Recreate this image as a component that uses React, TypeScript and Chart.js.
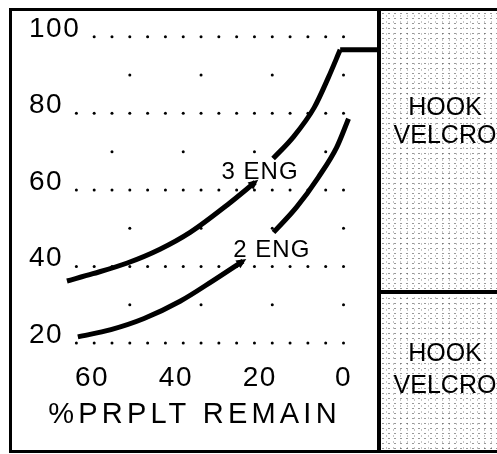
import React, { useEffect, useRef } from "react";
import { Chart, registerables } from "chart.js";

Chart.register(...registerables);

// ---- axis ticks / titles ----
const X_TICKS = [60, 40, 20, 0];
const Y_TICKS = [20, 40, 60, 80, 100];
const X_TITLE = "%PRPLT REMAIN";

// ---- curves (x = % propellant remaining, y = value) ----
const ENG3_LOW_X = [66.0, 59.8, 51.6, 43.8, 36.6, 27.6, 21.1];
const ENG3_LOW_Y = [36.2, 38.1, 40.9, 44.5, 48.9, 56.2, 62.0];
const ENG3_UP_X = [16.8, 12.0, 7.0, 3.6, 0.8];
const ENG3_UP_Y = [68.2, 73.8, 81.5, 89.4, 96.6];
const ENG3_FLAT_X = [0.8, -8.7];
const ENG3_FLAT_Y = [96.6, 96.6];
const ENG2_LOW_X = [63.4, 55.5, 47.6, 39.0, 31.1, 24.0];
const ENG2_LOW_Y = [21.6, 23.5, 26.4, 30.9, 36.3, 41.4];
const ENG2_UP_X = [16.7, 11.2, 6.0, 1.6, -1.2];
const ENG2_UP_Y = [48.9, 55.5, 63.3, 71.2, 78.6];

// ---- curve labels ----
const LABEL_TEXT = ["3 ENG", "2 ENG"];
const LABEL_X = [29.1, 26.3];
const LABEL_Y = [62.9, 42.5];

// ---- dotted grid ----
const DOT_COLS = [0, 4.25, 8.5, 12.75, 17, 21.25, 25.5, 29.75, 34, 38.25, 42.5, 46.75, 51, 55.25, 59.5, 63.75];
const DOT_COLS_TOP = [0, 4.25, 8.5, 12.75, 17, 21.25, 25.5, 29.75, 34, 38.25, 42.5, 46.75, 51, 55.25, 59.5];
const DOT_ROWS = [20, 40, 60, 80];
const DOT_ROW_TOP = 100;
const SPARSE_COLS_A = [0, 17, 34, 51];
const SPARSE_ROWS_A = [30, 50, 90];
const SPARSE_COLS_B = [4.25, 21.25, 38.25, 55.25];
const SPARSE_ROWS_B = [70];

// ---- side panel ----
const PANEL_LINES_TOP = ["HOOK", "VELCRO"];
const PANEL_LINES_BOTTOM = ["HOOK", "VELCRO"];

const FONT = "'Liberation Sans', Arial, Helvetica, sans-serif";

const zip = (xs: number[], ys: number[]) => xs.map((x, i) => ({ x, y: ys[i] }));

const dotGridPlugin = {
  id: "dotGrid",
  beforeDatasetsDraw(chart: any) {
    const { ctx, scales } = chart;
    const xs = scales.x;
    const ys = scales.y;
    const dot = (xv: number, yv: number) => {
      ctx.beginPath();
      ctx.arc(xs.getPixelForValue(xv), ys.getPixelForValue(yv), 1.5, 0, Math.PI * 2);
      ctx.fill();
    };
    ctx.save();
    ctx.fillStyle = "#000";
    DOT_ROWS.forEach((r) => DOT_COLS.forEach((c) => dot(c, r)));
    DOT_COLS_TOP.forEach((c) => dot(c, DOT_ROW_TOP));
    SPARSE_ROWS_A.forEach((r) => SPARSE_COLS_A.forEach((c) => dot(c, r)));
    SPARSE_ROWS_B.forEach((r) => SPARSE_COLS_B.forEach((c) => dot(c, r)));
    ctx.restore();
  },
};

const annotPlugin = {
  id: "annot",
  beforeDraw(chart: any) {
    chart.ctx.letterSpacing = "1.5px";
    const sx = chart.scales.x;
    if (sx && !sx.__titlePatched) {
      const orig = sx.drawTitle.bind(sx);
      sx.drawTitle = (...args: any[]) => {
        const c = sx.ctx;
        const prev = c.letterSpacing;
        c.letterSpacing = "4.2px";
        orig(...args);
        c.letterSpacing = prev;
      };
      sx.__titlePatched = true;
    }
  },
  afterDatasetsDraw(chart: any) {
    const { ctx, scales } = chart;
    ctx.save();
    ctx.fillStyle = "#000";
    chart.data.datasets.forEach((ds: any, i: number) => {
      if (!ds.arrow) return;
      const pts = chart.getDatasetMeta(i).data;
      const a = pts[pts.length - 2];
      const b = pts[pts.length - 1];
      const ang = Math.atan2(b.y - a.y, b.x - a.x);
      const tipX = b.x + Math.cos(ang) * 4;
      const tipY = b.y + Math.sin(ang) * 4;
      const baseX = b.x - Math.cos(ang) * 6;
      const baseY = b.y - Math.sin(ang) * 6;
      const nx = -Math.sin(ang) * 4.5;
      const ny = Math.cos(ang) * 4.5;
      ctx.beginPath();
      ctx.moveTo(tipX, tipY);
      ctx.lineTo(baseX + nx, baseY + ny);
      ctx.lineTo(baseX - nx, baseY - ny);
      ctx.closePath();
      ctx.fill();
    });
    ctx.letterSpacing = "1px";
    ctx.font = `24px ${FONT}`;
    ctx.textAlign = "left";
    ctx.textBaseline = "alphabetic";
    LABEL_TEXT.forEach((t, i) => {
      ctx.fillText(t, scales.x.getPixelForValue(LABEL_X[i]), scales.y.getPixelForValue(LABEL_Y[i]));
    });
    ctx.restore();
  },
};

export default function App() {
  const ref = useRef<HTMLCanvasElement>(null);

  useEffect(() => {
    if (!ref.current) return;
    Chart.defaults.font.family = FONT;
    Chart.defaults.color = "#000";
    const lineStyle = {
      borderColor: "#000",
      backgroundColor: "#000",
      borderWidth: 5,
      pointRadius: 0,
      fill: false,
      clip: false as any,
    };
    const smooth = { cubicInterpolationMode: "monotone" as const };
    const chart = new Chart(ref.current, {
      type: "line",
      data: {
        datasets: [
          { ...lineStyle, ...smooth, data: zip(ENG3_LOW_X, ENG3_LOW_Y), arrow: true } as any,
          { ...lineStyle, ...smooth, data: zip(ENG3_UP_X, ENG3_UP_Y) },
          { ...lineStyle, data: zip(ENG3_FLAT_X, ENG3_FLAT_Y), tension: 0 },
          { ...lineStyle, ...smooth, data: zip(ENG2_LOW_X, ENG2_LOW_Y), arrow: true } as any,
          { ...lineStyle, ...smooth, data: zip(ENG2_UP_X, ENG2_UP_Y) },
        ],
      },
      options: {
        animation: false,
        responsive: false,
        layout: { padding: { left: 9, right: 0, top: 36, bottom: 0 } },
        plugins: { legend: { display: false }, tooltip: { enabled: false } },
        scales: {
          x: {
            type: "linear",
            reverse: true,
            min: -8.71,
            max: 79.83,
            grid: { display: false, drawTicks: false },
            border: { display: false },
            afterBuildTicks: (s: any) => {
              s.ticks = X_TICKS.map((v) => ({ value: v }));
            },
            afterFit: (s: any) => {
              s.height = 111;
            },
            ticks: {
              color: "#000",
              font: { size: 28, family: FONT },
              padding: 18,
              maxRotation: 0,
              autoSkip: false,
            },
            title: {
              display: true,
              text: X_TITLE,
              color: "#000",
              font: { size: 29, family: FONT },
              padding: { top: 0, bottom: 22 },
            },
          },
          y: {
            type: "linear",
            min: 20,
            max: 100,
            grid: { display: false, drawTicks: false },
            border: { display: false },
            afterBuildTicks: (s: any) => {
              s.ticks = Y_TICKS.map((v) => ({ value: v }));
            },
            afterFit: (s: any) => {
              s.width = 0;
            },
            ticks: {
              mirror: true,
              padding: 20,
              color: "#000",
              font: { size: 28, family: FONT },
              labelOffset: -8,
              autoSkip: false,
            },
          },
        },
      },
      plugins: [dotGridPlugin, annotPlugin],
    });
    return () => chart.destroy();
  }, []);

  const textLine = (t: string, top: number) => (
    <div
      key={t + top}
      style={{
        position: "absolute",
        left: 382,
        top,
        width: 126,
        textAlign: "center",
        fontFamily: FONT,
        fontSize: 25,
        lineHeight: "25px",
        color: "#000",
        whiteSpace: "nowrap",
      }}
    >
      {t}
    </div>
  );

  return (
    <div
      style={{
        position: "fixed",
        left: 0,
        top: 0,
        width: 497,
        height: 454,
        overflow: "hidden",
        background: "#fff",
      }}
    >
      <div
        style={{
          position: "absolute",
          left: 380,
          top: 11,
          width: 140,
          height: 439,
          backgroundColor: "#fff",
          backgroundImage:
            "radial-gradient(circle, rgba(0,0,0,0.4) 0.5px, transparent 1px), radial-gradient(circle, rgba(0,0,0,0.22) 0.5px, transparent 1px)",
          backgroundSize: "6px 5px, 7px 6px",
          backgroundPosition: "0 0, 3px 2px",
        }}
      />
      <canvas
        ref={ref}
        width={380}
        height={454}
        style={{ position: "absolute", left: 0, top: 0, width: 380, height: 454 }}
      />
      <div
        style={{
          position: "absolute",
          left: 9,
          top: 8,
          width: 530,
          height: 445,
          border: "3px solid #000",
          boxSizing: "border-box",
        }}
      />
      <div style={{ position: "absolute", left: 377, top: 9, width: 4, height: 443, background: "#000" }} />
      <div style={{ position: "absolute", left: 380, top: 290, width: 130, height: 4, background: "#000" }} />
      {textLine(PANEL_LINES_TOP[0], 94)}
      {textLine(PANEL_LINES_TOP[1], 122)}
      {textLine(PANEL_LINES_BOTTOM[0], 340)}
      {textLine(PANEL_LINES_BOTTOM[1], 372)}
    </div>
  );
}
